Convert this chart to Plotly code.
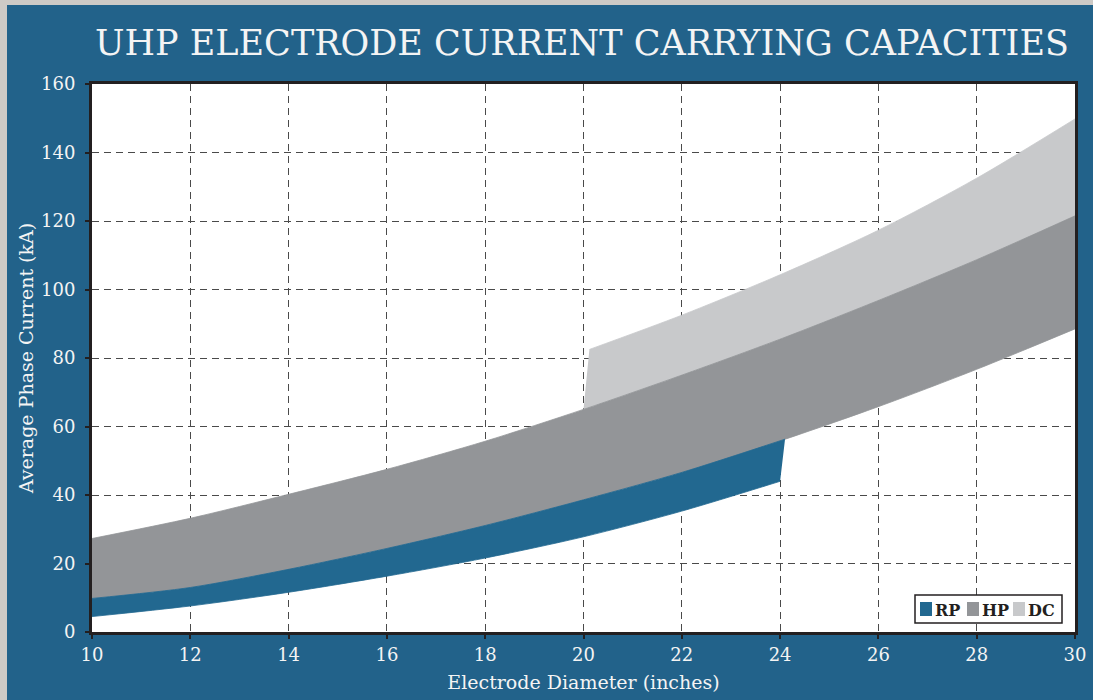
import plotly.graph_objects as go

# ---------------- data ----------------
diam = [10, 12, 14, 16, 18, 20, 22, 24, 26, 28, 30]

# RP band
rp_low_x = [10, 12, 14, 16, 18, 20, 22, 24]
rp_low_y = [4.5, 7.6, 11.6, 16.3, 21.6, 27.8, 35.3, 44.0]
rp_up_x = [10, 12, 14, 16, 18, 20, 22, 24.1]
rp_up_y = [9.8, 13.0, 18.3, 24.4, 31.1, 38.6, 46.6, 56.3]

# HP band
hp_low_y = [9.8, 13.0, 18.3, 24.4, 31.1, 38.6, 46.6, 55.8, 65.8, 76.7, 88.5]
hp_up_y = [27.3, 33.2, 40.2, 47.5, 55.7, 65.0, 75.0, 85.5, 96.8, 108.7, 121.5]

# DC band
dc_low_x = [20, 22, 24, 26, 28, 30]
dc_low_y = [65.0, 75.0, 85.5, 96.8, 108.7, 121.5]
dc_up_x = [20.12, 22, 24, 26, 28, 30]
dc_up_y = [82.5, 92.5, 104.3, 117.3, 132.5, 149.8]

series_names = ["RP", "HP", "DC"]
series_colors = ["#226890", "#939598", "#c8c9cb"]

x_ticks = [10, 12, 14, 16, 18, 20, 22, 24, 26, 28, 30]
y_ticks = [0, 20, 40, 60, 80, 100, 120, 140, 160]

# ---------------- figure ----------------
W, H = 1093, 700
L, R, T, B = 92, 18, 84, 68
PW, PH = W - L - R, H - T - B


def xp(px):
    return (px - L) / PW


def yp(py):
    return (H - B - py) / PH


fig = go.Figure()
band_data = {
    "DC": (dc_low_x, dc_low_y, dc_up_x, dc_up_y),
    "HP": (diam, hp_low_y, diam, hp_up_y),
    "RP": (rp_low_x, rp_low_y, rp_up_x, rp_up_y),
}
for name in ["DC", "HP", "RP"]:
    c = series_colors[series_names.index(name)]
    lx, ly, ux, uy = band_data[name]
    fig.add_trace(go.Scatter(
        x=lx, y=ly, mode="lines", line=dict(color=c, width=0.8,
                                            shape="spline", smoothing=0.8),
        showlegend=False, hoverinfo="skip"))
    fig.add_trace(go.Scatter(
        x=ux, y=uy, mode="lines", fill="tonexty", fillcolor=c,
        line=dict(color=c, width=0.8, shape="spline", smoothing=0.8),
        name=name, showlegend=False, hoverinfo="skip"))

border = "#231f20"
panel = "#22628a"
grid = "#4a4a4a"
white = "#f4f4f4"
serif = "DejaVu Serif"

axis_common = dict(
    showline=True, linecolor=border, linewidth=3, mirror=True,
    showgrid=True, gridcolor=grid, gridwidth=1.3, griddash="7px,5px",
    zeroline=False, ticks="outside", ticklen=4, tickwidth=1.5,
    tickcolor=border, tickfont=dict(family=serif, size=18, color=white),
    automargin=False,
)

fig.update_xaxes(range=[10, 30], tickvals=x_ticks, **axis_common,
                 title=dict(text="Electrode Diameter (inches)",
                            font=dict(family=serif, size=19, color=white),
                            standoff=13))
fig.update_yaxes(range=[0, 160], tickvals=y_ticks, **axis_common,
                 ticklabelstandoff=6,
                 title=dict(text="Average Phase Current (kA)",
                            font=dict(family=serif, size=19, color=white),
                            standoff=3))

shapes = [
    # grey surround strips
    dict(type="rect", xref="paper", yref="paper", x0=xp(0), x1=xp(W),
         y0=yp(5), y1=yp(0), fillcolor="#cdcac6", line=dict(width=0),
         layer="below"),
    dict(type="rect", xref="paper", yref="paper", x0=xp(0), x1=xp(7),
         y0=yp(H), y1=yp(0), fillcolor="#cdcac6", line=dict(width=0),
         layer="below"),
    # legend box
    dict(type="rect", xref="paper", yref="paper", x0=xp(915), x1=xp(1062),
         y0=yp(623), y1=yp(595), fillcolor="white",
         line=dict(color=border, width=1.5)),
]
annotations = []
sq_left = [920, 967, 1013]
for name, c, sx in zip(series_names, series_colors, sq_left):
    shapes.append(dict(type="rect", xref="paper", yref="paper",
                       x0=xp(sx), x1=xp(sx + 12), y0=yp(616), y1=yp(602),
                       fillcolor=c, line=dict(width=0)))
    annotations.append(dict(text="<b>%s</b>" % name, xref="paper",
                            yref="paper", x=xp(sx + 13), y=yp(610),
                            xanchor="left", yanchor="middle",
                            showarrow=False,
                            font=dict(family=serif, size=16, color=border)))

fig.update_layout(
    width=W, height=H, autosize=False,
    margin=dict(l=L, r=R, t=T, b=B, autoexpand=False),
    paper_bgcolor=panel, plot_bgcolor="white",
    title=dict(text="UHP ELECTRODE CURRENT CARRYING CAPACITIES",
               x=582 / W, xanchor="center", y=1 - 43 / H, yanchor="middle",
               font=dict(family=serif, size=35, color=white)),
    shapes=shapes, annotations=annotations,
    showlegend=False,
)

fig.write_html(
    "out.html",
    config={"displayModeBar": False},
    post_script="document.body.style.margin='0';"
                "document.body.style.background='#cdcac6';",
)
